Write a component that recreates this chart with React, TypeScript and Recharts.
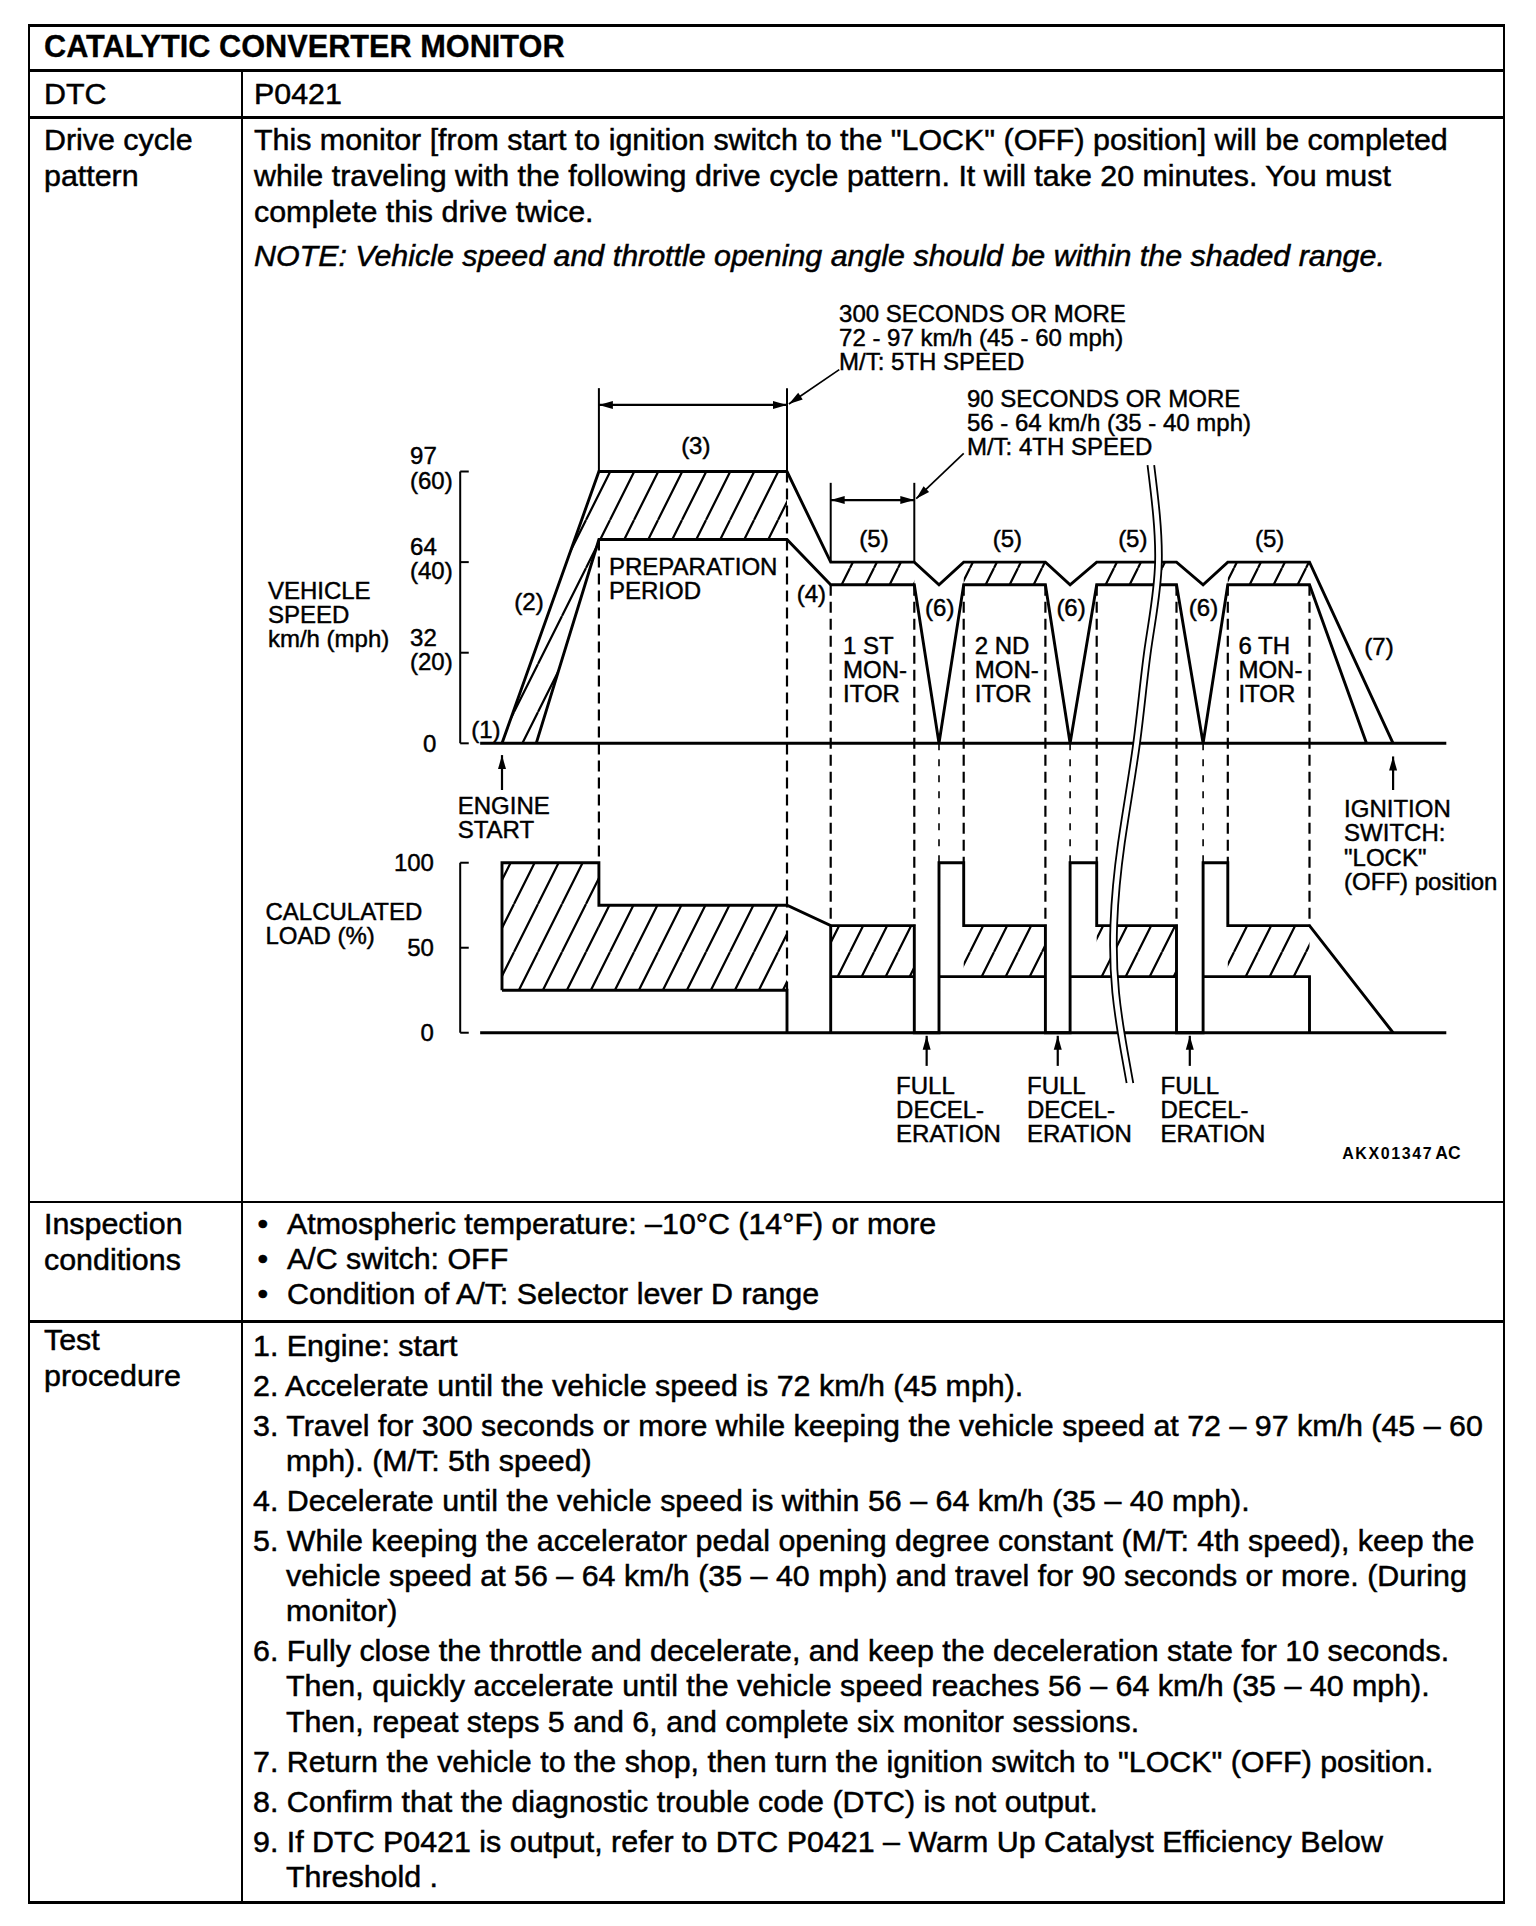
import React from "react";
import {
  ComposedChart,
  XAxis,
  YAxis,
  Line,
  Area,
  ReferenceArea,
  ReferenceLine,
  ReferenceDot,
} from "recharts";

const FONT = "'Liberation Sans', Arial, Helvetica, sans-serif";

// ---------------- chart data ----------------
// x = position along the drive cycle (chart units), speed in mph, load in %
const SPEED_TICKS = [0, 20, 40, 60];
const SPEED_TICK_KMH = ["0", "32", "64", "97"];
const SPEED_TICK_MPH = ["", "(20)", "(40)", "(60)"];
const LOAD_TICKS = [0, 50, 100];
const LOAD_TICK_LABELS = ["0", "50", "100"];

// upper / lower edge of the allowed vehicle speed range
const speedUpper = [
  { t: 0, v: 0 }, { t: 51, v: 60 }, { t: 150, v: 60 }, { t: 173, v: 40 },
  { t: 217, v: 40 }, { t: 230, v: 35 }, { t: 243, v: 40 }, { t: 286, v: 40 },
  { t: 299, v: 35 }, { t: 313, v: 40 }, { t: 355, v: 40 }, { t: 369, v: 35 },
  { t: 382, v: 40 }, { t: 425, v: 40 }, { t: 469, v: 0 },
];
const speedLower = [
  { t: 18, v: 0 }, { t: 51, v: 45 }, { t: 150, v: 45 }, { t: 173, v: 35 },
  { t: 217, v: 35 }, { t: 230, v: 0 }, { t: 243, v: 35 }, { t: 286, v: 35 },
  { t: 299, v: 0 }, { t: 313, v: 35 }, { t: 355, v: 35 }, { t: 369, v: 0 },
  { t: 382, v: 35 }, { t: 425, v: 35 }, { t: 455, v: 0 },
];
// shaded range (2)+(3)
const speedPrepBand = [
  { t: 0, r: [0, 0] }, { t: 18, r: [0, 21.2] }, { t: 51, r: [45, 60] }, { t: 150, r: [45, 60] },
];
// shaded range (5), 35 - 40 mph
const speedMonitorBands = [
  { t1: 173, t2: 217, lo: 35, hi: 40 },
  { t1: 243, t2: 286, lo: 35, hi: 40 },
  { t1: 313, t2: 355, lo: 35, hi: 40 },
  { t1: 382, t2: 425, lo: 35, hi: 40 },
];

// calculated load outline
const loadUpper = [
  { t: 0, v: 25 }, { t: 0, v: 100 }, { t: 51, v: 100 }, { t: 51, v: 75 }, { t: 150, v: 75 },
  { t: 173, v: 63 }, { t: 217, v: 63 }, { t: 217, v: 0 }, { t: 230, v: 0 }, { t: 230, v: 100 },
  { t: 243, v: 100 }, { t: 243, v: 63 }, { t: 286, v: 63 }, { t: 286, v: 0 }, { t: 299, v: 0 },
  { t: 299, v: 100 }, { t: 313, v: 100 }, { t: 313, v: 63 }, { t: 355, v: 63 }, { t: 355, v: 0 },
  { t: 369, v: 0 }, { t: 369, v: 100 }, { t: 382, v: 100 }, { t: 382, v: 63 }, { t: 425, v: 63 },
  { t: 469, v: 0 },
];
const loadFloorLines = [
  [{ t: 0, v: 25 }, { t: 150, v: 25 }, { t: 150, v: 0 }],
  [{ t: 173, v: 63 }, { t: 173, v: 0 }],
  [{ t: 173, v: 33 }, { t: 217, v: 33 }],
  [{ t: 230, v: 33 }, { t: 286, v: 33 }],
  [{ t: 299, v: 33 }, { t: 355, v: 33 }],
  [{ t: 369, v: 33 }, { t: 425, v: 33 }, { t: 425, v: 0 }],
];
const loadBands = [
  { t1: 0, t2: 51, lo: 25, hi: 100 },
  { t1: 51, t2: 150, lo: 25, hi: 75 },
  { t1: 173, t2: 217, lo: 33, hi: 63 },
  { t1: 243, t2: 286, lo: 33, hi: 63 },
  { t1: 313, t2: 355, lo: 33, hi: 63 },
  { t1: 382, t2: 425, lo: 33, hi: 63 },
];

// dashed guides: from speed value down to load value
const dashedGuides = [
  { t: 51, s: 45, l: 100, sparse: false },
  { t: 150, s: 60, l: 25, sparse: false },
  { t: 173, s: 35, l: 63, sparse: false },
  { t: 217, s: 35, l: 63, sparse: false },
  { t: 230, s: 0, l: 100, sparse: true },
  { t: 243, s: 35, l: 100, sparse: false },
  { t: 286, s: 35, l: 63, sparse: false },
  { t: 299, s: 0, l: 100, sparse: true },
  { t: 313, s: 35, l: 100, sparse: false },
  { t: 355, s: 35, l: 63, sparse: false },
  { t: 369, s: 0, l: 100, sparse: true },
  { t: 382, s: 35, l: 100, sparse: false },
  { t: 425, s: 35, l: 63, sparse: false },
];

// break symbol (centre line)
const breakCenter = [
  { t: 341.5, v: 61.4 }, { t: 345.5, v: 40 }, { t: 340, v: 21 }, { t: 334, v: 0 },
  { t: 326, v: -22 }, { t: 322, v: -40 }, { t: 323, v: -55 }, { t: 327.5, v: -68 },
  { t: 330.5, v: -75 },
];

// dimension annotations (speed axis units)
const dimArrows = [
  { t1: 51, t2: 150, v: 74.7 },
  { t1: 173, t2: 217, v: 53.7 },
];
const extensionLines = [
  { t: 51, v1: 60, v2: 78.4 },
  { t: 150, v1: 60, v2: 78.4 },
  { t: 173, v1: 40, v2: 57.5 },
  { t: 217, v1: 40, v2: 57.5 },
];
const leaders = [
  { t1: 177.5, v1: 82.5, t2: 151, v2: 74.9 },
  { t1: 243, v1: 64, t2: 218, v2: 54 },
];
const speedUpArrows = [
  { t: 0, v1: -10.3, v2: -2.6 },
  { t: 469, v1: -10.3, v2: -2.9 },
];
const loadUpArrows = [
  { t: 223.5, v1: -19.5, v2: -1.8 },
  { t: 292.5, v1: -19.5, v2: -1.8 },
  { t: 362, v1: -19.5, v2: -1.8 },
];

type Note = { t: number; v: number; lines: string[]; anchor?: "start" | "middle" | "end" };
const speedNotes: Note[] = [
  { t: 102, v: 65.8, lines: ["(3)"], anchor: "middle" },
  { t: 195.8, v: 45.2, lines: ["(5)"], anchor: "middle" },
  { t: 266, v: 45.2, lines: ["(5)"], anchor: "middle" },
  { t: 332, v: 45.2, lines: ["(5)"], anchor: "middle" },
  { t: 404, v: 45.2, lines: ["(5)"], anchor: "middle" },
  { t: 230.4, v: 29.9, lines: ["(6)"], anchor: "middle" },
  { t: 299.5, v: 29.9, lines: ["(6)"], anchor: "middle" },
  { t: 369.2, v: 29.9, lines: ["(6)"], anchor: "middle" },
  { t: 162.8, v: 33.2, lines: ["(4)"], anchor: "middle" },
  { t: 14.2, v: 31.3, lines: ["(2)"], anchor: "middle" },
  { t: -8.5, v: 3, lines: ["(1)"], anchor: "middle" },
  { t: 461.6, v: 21.3, lines: ["(7)"], anchor: "middle" },
  { t: 56.3, v: 39, lines: ["PREPARATION", "PERIOD"] },
  { t: 179.5, v: 21.7, lines: ["1 ST", "MON-", "ITOR"] },
  { t: 248.8, v: 21.7, lines: ["2 ND", "MON-", "ITOR"] },
  { t: 387.6, v: 21.7, lines: ["6 TH", "MON-", "ITOR"] },
  { t: 177.4, v: 95, lines: ["300 SECONDS OR MORE", "72 - 97 km/h (45 - 60 mph)", "M/T: 5TH SPEED"] },
  { t: 244.7, v: 76.2, lines: ["90 SECONDS OR MORE", "56 - 64 km/h (35 - 40 mph)", "M/T: 4TH SPEED"] },
  { t: -123.2, v: 33.8, lines: ["VEHICLE", "SPEED", "km/h (mph)"] },
  { t: -23.3, v: -13.6, lines: ["ENGINE", "START"] },
  { t: 443.2, v: -14.4, lines: ["IGNITION", "SWITCH:", "\"LOCK\"", "(OFF) position"] },
];
const loadNotes: Note[] = [
  { t: -124.5, v: 71.6, lines: ["CALCULATED", "LOAD (%)"] },
  { t: 207.4, v: -30.8, lines: ["FULL", "DECEL-", "ERATION"] },
  { t: 276.3, v: -30.8, lines: ["FULL", "DECEL-", "ERATION"] },
  { t: 346.6, v: -30.8, lines: ["FULL", "DECEL-", "ERATION"] },
];

// ---------------- axes geometry ----------------
const X_DOMAIN: [number, number] = [-24, 500];
const SPEED_DOMAIN: [number, number] = [-92, 100];
const LOAD0_SPEED = -63.885; // speed-axis value where load 0 % sits
const LOAD100_SPEED = -26.358; // speed-axis value where load 100 % sits
const loadOf = (s: number) => ((s - LOAD0_SPEED) / (LOAD100_SPEED - LOAD0_SPEED)) * 100;
const LOAD_DOMAIN: [number, number] = [loadOf(SPEED_DOMAIN[0]), loadOf(SPEED_DOMAIN[1])];

// ---------------- document text ----------------
const TITLE = "CATALYTIC CONVERTER MONITOR";
const INTRO = [
  "This monitor [from start to ignition switch to the \"LOCK\" (OFF) position] will be completed",
  "while traveling with the following drive cycle pattern. It will take 20 minutes. You must",
  "complete this drive twice.",
];
const NOTE = "NOTE: Vehicle speed and throttle opening angle should be within the shaded range.";
const CONDITIONS = [
  "Atmospheric temperature: \u201310\u00B0C (14\u00B0F) or more",
  "A/C switch: OFF",
  "Condition of A/T: Selector lever D range",
];
const STEPS: string[][] = [
  ["1. Engine: start"],
  ["2. Accelerate until the vehicle speed is 72 km/h (45 mph)."],
  [
    "3. Travel for 300 seconds or more while keeping the vehicle speed at 72 \u2013 97 km/h (45 \u2013 60",
    "mph). (M/T: 5th speed)",
  ],
  ["4. Decelerate until the vehicle speed is within 56 \u2013 64 km/h (35 \u2013 40 mph)."],
  [
    "5. While keeping the accelerator pedal opening degree constant (M/T: 4th speed), keep the",
    "vehicle speed at 56 \u2013 64 km/h (35 \u2013 40 mph) and travel for 90 seconds or more. (During",
    "monitor)",
  ],
  [
    "6. Fully close the throttle and decelerate, and keep the deceleration state for 10 seconds.",
    "Then, quickly accelerate until the vehicle speed reaches 56 \u2013 64 km/h (35 \u2013 40 mph).",
    "Then, repeat steps 5 and 6, and complete six monitor sessions.",
  ],
  ["7. Return the vehicle to the shop, then turn the ignition switch to \"LOCK\" (OFF) position."],
  ["8. Confirm that the diagnostic trouble code (DTC) is not output."],
  [
    "9. If DTC P0421 is output, refer to DTC P0421 \u2013 Warm Up Catalyst Efficiency Below",
    "Threshold .",
  ],
];

// ---------------- helpers ----------------
const headPts = (xt: number, yt: number, xf: number, yf: number, len = 14, hw = 4) => {
  const dx = xt - xf;
  const dy = yt - yf;
  const d = Math.hypot(dx, dy) || 1;
  const ux = dx / d;
  const uy = dy / d;
  const bx = xt - ux * len;
  const by = yt - uy * len;
  return `${xt},${yt} ${bx - uy * hw},${by + ux * hw} ${bx + uy * hw},${by - ux * hw}`;
};

const arrowShape = (heads: "start" | "end" | "both", width = 2) => (p: any) => {
  const { x1, y1, x2, y2 } = p;
  return (
    <g>
      <line x1={x1} y1={y1} x2={x2} y2={y2} stroke="#000" strokeWidth={width} />
      {(heads === "end" || heads === "both") && <polygon points={headPts(x2, y2, x1, y1)} fill="#000" />}
      {(heads === "start" || heads === "both") && <polygon points={headPts(x1, y1, x2, y2)} fill="#000" />}
    </g>
  );
};

const ChartText = (props: any) => {
  const { cx, cy, lines, anchor = "start", size = 24, lh = 24.2, weight = 400, dys } = props;
  if (typeof cx !== "number" || typeof cy !== "number") return null;
  return (
    <text textAnchor={anchor} fontFamily={FONT} fontSize={size} fontWeight={weight} fill="#000" stroke="#000" strokeWidth={0.45}>
      {lines.map((s: string, i: number) => (
        <tspan key={i} x={cx} y={cy + 0.358 * size + (dys ? dys[i] : i * lh)}>
          {s}
        </tspan>
      ))}
    </text>
  );
};

const textDot = (key: string, t: number, v: number, axis: string, lines: string[], opts: any = {}) => (
  <ReferenceDot
    key={key}
    x={t}
    y={v}
    yAxisId={axis}
    r={0}
    ifOverflow="visible"
    zIndex={800}
    shape={(p: any) => <ChartText cx={p.cx} cy={p.cy} lines={lines} {...opts} />}
  />
);

const seg = (key: string, axis: string, t1: number, v1: number, t2: number, v2: number, extra: any = {}) => (
  <ReferenceLine
    key={key}
    yAxisId={axis}
    segment={[{ x: t1, y: v1 }, { x: t2, y: v2 }]}
    stroke="#000"
    strokeWidth={2.9}
    ifOverflow="visible"
    zIndex={450}
    {...extra}
  />
);

function DriveCycleChart() {
  const outline = { stroke: "#000", strokeWidth: 2.9, dot: false, activeDot: false, isAnimationActive: false, type: "linear" as const, legendType: "none" as const };
  return (
    <ComposedChart width={1253} height={900} margin={{ top: 10.3, right: 51, bottom: 19.9, left: 206.4 }}>
      <defs>
        <pattern id="hatch" patternUnits="userSpaceOnUse" width={24} height={48}>
          <path d="M-24,48 L0,0 M0,48 L24,0 M24,48 L48,0" stroke="#000" strokeWidth={2.2} />
        </pattern>
      </defs>
      <XAxis type="number" dataKey="t" domain={X_DOMAIN} allowDataOverflow hide />
      <YAxis yAxisId="spd" type="number" domain={SPEED_DOMAIN} allowDataOverflow hide />
      <YAxis yAxisId="load" type="number" domain={LOAD_DOMAIN} allowDataOverflow hide />

      {/* shaded ranges */}
      <Area
        yAxisId="spd"
        data={speedPrepBand}
        dataKey="r"
        type="linear"
        stroke="none"
        fill="url(#hatch)"
        fillOpacity={1}
        dot={false}
        activeDot={false}
        isAnimationActive={false}
        legendType="none"
        zIndex={100}
      />
      {speedMonitorBands.map((b, i) => (
        <ReferenceArea key={`sb${i}`} yAxisId="spd" x1={b.t1} x2={b.t2} y1={b.lo} y2={b.hi} fill="url(#hatch)" fillOpacity={1} stroke="none" ifOverflow="visible" zIndex={100} />
      ))}
      {loadBands.map((b, i) => (
        <ReferenceArea key={`lb${i}`} yAxisId="load" x1={b.t1} x2={b.t2} y1={b.lo} y2={b.hi} fill="url(#hatch)" fillOpacity={1} stroke="none" ifOverflow="visible" zIndex={100} />
      ))}

      {/* outlines */}
      <Line yAxisId="spd" data={speedUpper} dataKey="v" {...outline} zIndex={400} />
      <Line yAxisId="spd" data={speedLower} dataKey="v" {...outline} zIndex={400} />
      <Line yAxisId="load" data={loadUpper} dataKey="v" {...outline} zIndex={400} />
      {loadFloorLines.map((d, i) => (
        <Line key={`lf${i}`} yAxisId="load" data={d} dataKey="v" {...outline} zIndex={400} />
      ))}

      {/* axes brackets and baselines */}
      {seg("sbv", "spd", -22, 0, -22, SPEED_TICKS[SPEED_TICKS.length - 1], { strokeWidth: 2 })}
      {SPEED_TICKS.map((v, i) => seg(`sbt${i}`, "spd", -22, v, -17.5, v, { strokeWidth: 2 }))}
      {seg("lbv", "load", -22, 0, -22, LOAD_TICKS[LOAD_TICKS.length - 1], { strokeWidth: 2 })}
      {LOAD_TICKS.map((v, i) => seg(`lbt${i}`, "load", -22, v, -17.5, v, { strokeWidth: 2 }))}
      {seg("sbase", "spd", -11.5, 0, 497, 0)}
      {seg("lbase", "load", -11.5, 0, 497, 0)}

      {/* dashed guides */}
      {dashedGuides.map((g, i) =>
        seg(`dg${i}`, "load", g.t, loadOf(g.s), g.t, g.l, {
          strokeWidth: g.sparse ? 1.6 : 2.2,
          strokeDasharray: g.sparse ? "7 9" : "11 6",
        })
      )}

      {/* dimensions */}
      {extensionLines.map((e, i) => seg(`ext${i}`, "spd", e.t, e.v1, e.t, e.v2, { strokeWidth: 2 }))}
      {dimArrows.map((a, i) => seg(`dim${i}`, "spd", a.t1, a.v, a.t2, a.v, { shape: arrowShape("both", 2.2) }))}
      {leaders.map((a, i) => seg(`ld${i}`, "spd", a.t1, a.v1, a.t2, a.v2, { shape: arrowShape("end", 1.7) }))}
      {speedUpArrows.map((a, i) => seg(`sua${i}`, "spd", a.t, a.v1, a.t, a.v2, { shape: arrowShape("end", 2.2) }))}
      {loadUpArrows.map((a, i) => seg(`lua${i}`, "load", a.t, a.v1, a.t, a.v2, { shape: arrowShape("end", 2.2) }))}

      {/* break symbol */}
      <Line yAxisId="spd" data={breakCenter} dataKey="v" type="natural" stroke="#fff" strokeWidth={6.6} dot={false} activeDot={false} isAnimationActive={false} legendType="none" zIndex={700} />
      <Line yAxisId="spd" data={breakCenter.map((p) => ({ t: p.t - 1.75, v: p.v }))} dataKey="v" type="natural" stroke="#000" strokeWidth={1.8} dot={false} activeDot={false} isAnimationActive={false} legendType="none" zIndex={710} />
      <Line yAxisId="spd" data={breakCenter.map((p) => ({ t: p.t + 1.75, v: p.v }))} dataKey="v" type="natural" stroke="#000" strokeWidth={1.8} dot={false} activeDot={false} isAnimationActive={false} legendType="none" zIndex={710} />

      {/* tick labels */}
      {SPEED_TICKS.map((v, i) =>
        i === 0
          ? textDot(`stl${i}`, -41.6, v, "spd", [SPEED_TICK_KMH[i]])
          : textDot(`stl${i}`, -48.4, v, "spd", [SPEED_TICK_KMH[i], SPEED_TICK_MPH[i]], { dys: [-15.8, 8.4] })
      )}
      {LOAD_TICKS.map((v, i) => textDot(`ltl${i}`, -35.8, v, "load", [LOAD_TICK_LABELS[i]], { anchor: "end" }))}

      {/* annotations */}
      {speedNotes.map((n, i) => textDot(`sn${i}`, n.t, n.v, "spd", n.lines, { anchor: n.anchor || "start" }))}
      {loadNotes.map((n, i) => textDot(`ln${i}`, n.t, n.v, "load", n.lines, { anchor: n.anchor || "start" }))}
      <ReferenceDot
        x={442.2}
        y={-70.6}
        yAxisId="load"
        r={0}
        ifOverflow="visible"
        zIndex={800}
        shape={(p: any) =>
          typeof p.cx === "number" ? (
            <text x={p.cx} y={p.cy + 6} fontFamily={FONT} fontWeight={700} fill="#000">
              <tspan fontSize={16} letterSpacing={1.6}>AKX01347</tspan>
              <tspan fontSize={17.5} dx={2}>AC</tspan>
            </text>
          ) : null
        }
      />
    </ComposedChart>
  );
}

// ---------------- page ----------------
const BODY = 30.4;
const Txt = (p: { x: number; yc: number; children: React.ReactNode; size?: number; bold?: boolean; italic?: boolean }) => (
  <div
    style={{
      position: "absolute",
      left: p.x,
      top: p.yc - 20,
      height: 40,
      lineHeight: "40px",
      fontSize: p.size || BODY,
      fontWeight: p.bold ? 700 : 400,
      fontStyle: p.italic ? "italic" : "normal",
      whiteSpace: "pre",
      fontFamily: FONT,
      color: "#000",
      WebkitTextStroke: p.bold ? "0.3px #000" : "0.5px #000",
    }}
  >
    {p.children}
  </div>
);
const HLine = (x1: number, x2: number, y: number, w = 2.8) => (
  <div key={`h${y}`} style={{ position: "absolute", left: x1, top: y - w / 2, width: x2 - x1, height: w, background: "#000" }} />
);
const VLine = (x: number, y1: number, y2: number, w = 2.8) => (
  <div key={`v${x}`} style={{ position: "absolute", left: x - w / 2, top: y1, width: w, height: y2 - y1, background: "#000" }} />
);

export default function App() {
  const L = 29;
  const R = 1504;
  const COL = 242;
  const rows = [25.5, 70.5, 117.5, 1202, 1321.5, 1902.5];

  // vertical positions of step lines
  const stepYs: number[][] = [];
  let y = 1344.5;
  STEPS.forEach((item, i) => {
    if (i > 0) y += 40.1;
    const ys: number[] = [];
    item.forEach((_, j) => {
      if (j > 0) y += 35.1;
      ys.push(y);
    });
    stepYs.push(ys);
  });

  return (
    <div style={{ position: "absolute", left: 0, top: 0, width: 1536, height: 1926, background: "#fff", overflow: "hidden", fontFamily: FONT }}>
      {rows.map((ry) => HLine(L, R, ry))}
      {VLine(L, rows[0] - 1.4, rows[5] + 1.4)}
      {VLine(R, rows[0] - 1.4, rows[5] + 1.4)}
      {VLine(COL, rows[1], rows[5] + 1.4)}

      <Txt x={44} yc={46.5} bold size={30.7}>{TITLE}</Txt>
      <Txt x={44} yc={93}>DTC</Txt>
      <Txt x={254} yc={93}>P0421</Txt>

      <Txt x={44} yc={138.5}>Drive cycle</Txt>
      <Txt x={44} yc={175}>pattern</Txt>
      {INTRO.map((s, i) => (
        <Txt key={`in${i}`} x={254} yc={138.5 + i * 36.3}>{s}</Txt>
      ))}
      <Txt x={254} yc={254.5} italic>{NOTE}</Txt>

      <div style={{ position: "absolute", left: 250, top: 280 }}>
        <DriveCycleChart />
      </div>

      <Txt x={44} yc={1222.5}>Inspection</Txt>
      <Txt x={44} yc={1258.5}>conditions</Txt>
      {CONDITIONS.map((s, i) => (
        <React.Fragment key={`c${i}`}>
          <Txt x={257.5} yc={1223 + i * 35.2}>{"\u2022"}</Txt>
          <Txt x={287} yc={1223 + i * 35.2}>{s}</Txt>
        </React.Fragment>
      ))}

      <Txt x={44} yc={1339}>Test</Txt>
      <Txt x={44} yc={1375}>procedure</Txt>
      {STEPS.map((item, i) =>
        item.map((s, j) => (
          <Txt key={`s${i}_${j}`} x={j === 0 ? 253 : 286} yc={stepYs[i][j]}>{s}</Txt>
        ))
      )}
    </div>
  );
}
